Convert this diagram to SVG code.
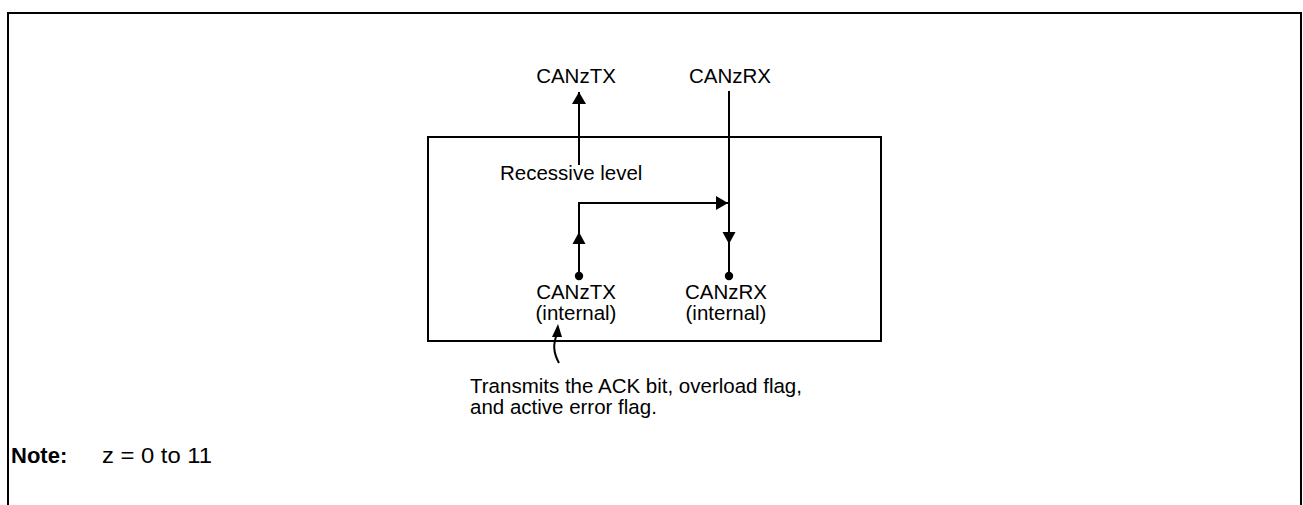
<svg xmlns="http://www.w3.org/2000/svg" width="1303" height="505" viewBox="0 0 1303 505">
<style>
text{font-family:"Liberation Sans",Arial,sans-serif;font-size:20.5px;fill:#000}
.ln{fill:none;stroke:#000;stroke-width:2}
.b{font-weight:bold}
.n{font-size:22px}
</style>
<defs>
<marker id="ah" viewBox="0 0 12 14" refX="12" refY="7" markerWidth="12" markerHeight="14" markerUnits="userSpaceOnUse" orient="auto">
<path d="M0,0 L12,7 L0,14 Z" fill="#000"/>
</marker>
</defs>
<rect width="1303" height="505" fill="#fff"/>
<g id="frame">
<path class="ln" d="M8,505 V13 H1301 V505" stroke-width="2.5"/>
</g>
<g id="block">
<rect class="ln" x="428" y="137" width="453" height="204"/>
</g>
<g id="connectors">
<line class="ln" x1="579" y1="165" x2="579" y2="92" marker-end="url(#ah)"/>
<line class="ln" x1="729" y1="91" x2="729" y2="276"/>
<path d="M722.5,232 L735.5,232 L729,244 Z" fill="#000"/>
<polyline class="ln" points="579,276 579,203 728,203" marker-end="url(#ah)"/>
<path d="M572.5,244 L585.5,244 L579,232 Z" fill="#000"/>
<circle cx="579" cy="276" r="4.2" fill="#000"/>
<circle cx="729" cy="276" r="4.2" fill="#000"/>
<path class="ln" d="M559,363 C553,352 553,344 557,334"/>
<path d="M552,337 L562,337 L558,324 Z" fill="#000"/>
</g>
<g id="canztx-top"><text x="576" y="83" text-anchor="middle">CANzTX</text></g>
<g id="canzrx-top"><text x="730" y="83" text-anchor="middle">CANzRX</text></g>
<g id="recessive"><text x="500" y="180">Recessive level</text></g>
<g id="canztx-int"><text x="576" y="299" text-anchor="middle">CANzTX</text><text x="576" y="320" text-anchor="middle">(internal)</text></g>
<g id="canzrx-int"><text x="726" y="299" text-anchor="middle">CANzRX</text><text x="726" y="320" text-anchor="middle">(internal)</text></g>
<g id="note-tx"><text x="470" y="393">Transmits the ACK bit, overload flag,</text><text x="470" y="414">and active error flag.</text></g>
<g id="note"><text class="b n" x="11" y="463">Note:</text><text class="n" x="102" y="463" textLength="110" lengthAdjust="spacingAndGlyphs">z = 0 to 11</text></g>
</svg>
